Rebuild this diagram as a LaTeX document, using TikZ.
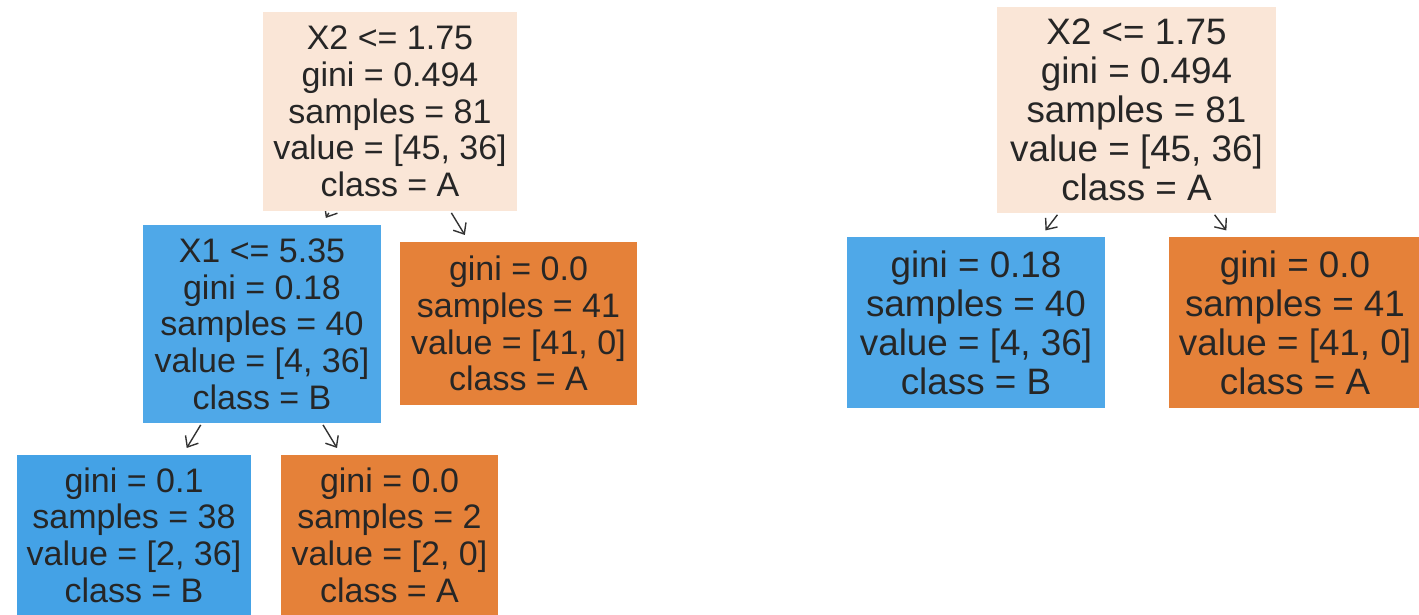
\documentclass[tikz,border=0pt]{standalone}
\usepackage{fontspec}
\setmainfont{Liberation Sans}
\usetikzlibrary{arrows.meta,backgrounds}

\definecolor{txt}{RGB}{38,38,38}
\definecolor{edgecol}{RGB}{51,51,51}
\definecolor{rootfill}{RGB}{250,230,215}
\definecolor{bluemid}{RGB}{79,168,232}
\definecolor{bluedeep}{RGB}{68,162,230}
\definecolor{orangefull}{RGB}{229,129,57}

\tikzset{
  treenode/.style={rectangle, inner sep=0pt, align=center, text=txt},
  smallfont/.style={font=\fontsize{34}{36.7}\selectfont},
  bigfont/.style={font=\fontsize{36.8}{39}\selectfont},
  treeedge/.style={draw=edgecol, line width=1.4pt,
    -{Straight Barb[length=9pt,width=15pt,line width=1.4pt]},
    shorten <=2pt, shorten >=8pt}
}

\begin{document}
\begin{tikzpicture}[x=1pt,y=-1pt]
\useasboundingbox (0,0) rectangle (1419,615);
\clip (0,0) rectangle (1419,615);

% left tree: split on X2, then on X1
\node[treenode, smallfont, fill=rootfill, minimum width=254pt, minimum height=199pt]
  (lroot) at (390,111.5) {X2 <= 1.75\\gini = 0.494\\samples = 81\\value = [45, 36]\\class = A};
\node[treenode, smallfont, fill=bluemid, minimum width=238pt, minimum height=198pt]
  (lsplit) at (262,324) {X1 <= 5.35\\gini = 0.18\\samples = 40\\value = [4, 36]\\class = B};
\node[treenode, smallfont, fill=orangefull, minimum width=237pt, minimum height=163pt]
  (lright) at (518.5,323.5) {gini = 0.0\\samples = 41\\value = [41, 0]\\class = A};
\node[treenode, smallfont, fill=bluedeep, minimum width=234pt, minimum height=160pt]
  (lleafa) at (134,535) {gini = 0.1\\samples = 38\\value = [2, 36]\\class = B};
\node[treenode, smallfont, fill=orangefull, minimum width=217pt, minimum height=160pt]
  (lleafb) at (389.5,535) {gini = 0.0\\samples = 2\\value = [2, 0]\\class = A};

% right tree: a single split on X2
\node[treenode, bigfont, fill=rootfill, minimum width=279pt, minimum height=206pt]
  (rroot) at (1136.5,110) {X2 <= 1.75\\gini = 0.494\\samples = 81\\value = [45, 36]\\class = A};
\node[treenode, bigfont, fill=bluemid, minimum width=258pt, minimum height=171pt]
  (rleft) at (976,322.5) {gini = 0.18\\samples = 40\\value = [4, 36]\\class = B};
\node[treenode, bigfont, fill=orangefull, minimum width=252pt, minimum height=171pt]
  (rright) at (1295,322.5) {gini = 0.0\\samples = 41\\value = [41, 0]\\class = A};

\begin{scope}[on background layer]
  \draw[treeedge] (lroot) -- (lsplit);
  \draw[treeedge] (lroot) -- (lright);
  \draw[treeedge] (lsplit) -- (lleafa);
  \draw[treeedge] (lsplit) -- (lleafb);
  \draw[treeedge] (rroot) -- (rleft);
  \draw[treeedge] (rroot) -- (rright);
\end{scope}
\end{tikzpicture}
\end{document}
